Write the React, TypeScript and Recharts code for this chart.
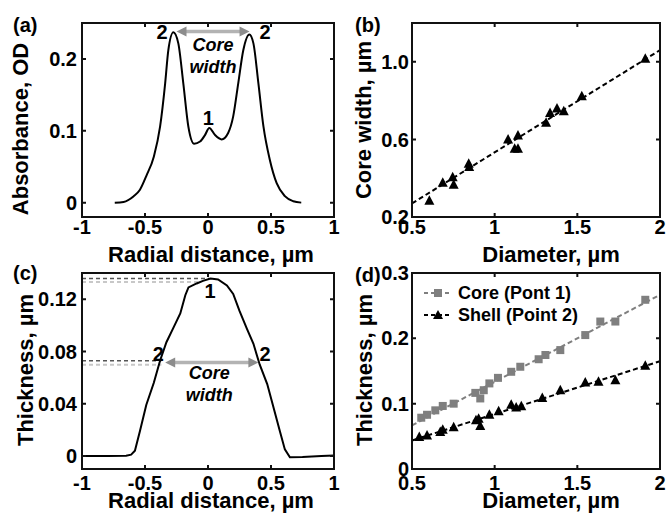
import React from "react";
import {
  ComposedChart,
  Line,
  Scatter,
  XAxis,
  YAxis,
  ReferenceLine,
  ReferenceDot,
  Legend,
} from "recharts";

const FONT = "'Liberation Sans', Arial, Helvetica, sans-serif";
const CORE_GRAY = "#7f7f7f";

// (a) absorbance profile
const radialA = [-0.74, -0.67, -0.59, -0.54, -0.49, -0.43, -0.38, -0.34, -0.315, -0.275, -0.236, -0.196, -0.156, -0.11, -0.063, -0.024, 0.01, 0.056, 0.108, 0.16, 0.2, 0.24, 0.28, 0.328, 0.36, 0.4, 0.44, 0.49, 0.545, 0.61, 0.677, 0.74];
const absorbance = [0, 0.001, 0.009, 0.018, 0.037, 0.064, 0.106, 0.166, 0.212, 0.237, 0.222, 0.166, 0.106, 0.082, 0.085, 0.094, 0.104, 0.094, 0.088, 0.097, 0.12, 0.166, 0.212, 0.234, 0.222, 0.166, 0.106, 0.06, 0.027, 0.009, 0.002, 0];

// (b) core width vs diameter
const diameterB = [0.605, 0.686, 0.746, 0.752, 0.843, 0.846, 1.081, 1.121, 1.141, 1.141, 1.311, 1.335, 1.377, 1.418, 1.527, 1.911];
const coreWidth = [0.284, 0.376, 0.405, 0.366, 0.475, 0.458, 0.6, 0.552, 0.552, 0.62, 0.686, 0.736, 0.759, 0.745, 0.822, 1.016];
const fitDiamB = [0.5, 2];
const fitWidthB = [0.27, 1.06];

// (c) thickness profile
const radialC = [-1, -0.8, -0.65, -0.61, -0.58, -0.54, -0.49, -0.43, -0.38, -0.33, -0.275, -0.22, -0.18, -0.155, -0.09, -0.04, 0.02, 0.08, 0.15, 0.2, 0.25, 0.31, 0.36, 0.41, 0.47, 0.52, 0.57, 0.61, 0.65, 0.75, 0.9, 1];
const thicknessC = [0, 0, 0.0002, 0.001, 0.004, 0.019, 0.039, 0.056, 0.073, 0.087, 0.098, 0.109, 0.123, 0.129, 0.132, 0.134, 0.1357, 0.135, 0.1305, 0.124, 0.111, 0.097, 0.086, 0.07, 0.055, 0.037, 0.019, 0.005, -0.001, -0.0008, 0, 0.0003];

// (d) thickness vs diameter
const coreDiam = [0.556, 0.591, 0.641, 0.686, 0.752, 0.883, 0.913, 0.934, 0.968, 1.02, 1.1, 1.155, 1.266, 1.307, 1.397, 1.548, 1.639, 1.73, 1.911];
const coreThick = [0.0785, 0.083, 0.0898, 0.0965, 0.1, 0.1165, 0.108, 0.1206, 0.131, 0.1395, 0.1488, 0.1565, 0.168, 0.1745, 0.182, 0.205, 0.2257, 0.2257, 0.259];
const shellDiam = [0.544, 0.591, 0.671, 0.686, 0.752, 0.887, 0.903, 0.913, 0.968, 1.024, 1.1, 1.13, 1.161, 1.288, 1.397, 1.548, 1.628, 1.73, 1.911];
const shellThick = [0.0488, 0.0514, 0.0565, 0.06, 0.064, 0.0745, 0.077, 0.0657, 0.083, 0.0883, 0.0985, 0.094, 0.096, 0.1088, 0.1206, 0.1323, 0.1334, 0.136, 0.158];
const fitDiamD = [0.5, 2];
const coreFit = [0.0668, 0.2667];
const shellFit = [0.0437, 0.165];
const legendD = [
  { name: "Core (Pont 1)", color: CORE_GRAY, marker: "square" },
  { name: "Shell (Point 2)", color: "#000", marker: "triangle" },
];

// axis domains and ticks
const radialDomain = [-1, 1];
const diamDomain = [0.5, 2];
const absDomain = [-0.02, 0.25];
const widthDomain = [0.2, 1.2];
const thickDomainC = [-0.01, 0.14];
const thickDomainD = [0, 0.3];
const radialTicks = [-1, -0.5, 0, 0.5, 1];
const diamTicks = [0.5, 1, 1.5, 2];
const absTicks = [0, 0.1, 0.2];
const widthTicks = [0.2, 0.6, 1.0];
const thickTicksC = [0, 0.04, 0.08, 0.12];
const thickTicksD = [0, 0.1, 0.2, 0.3];

const zip = (xs: number[], ys: number[]) => xs.map((x, i) => ({ x, y: ys[i] }));

const tickStyle = { fill: "#000", fontSize: 20, fontWeight: 700, fontFamily: FONT };
const titleStyle: React.CSSProperties = { fontSize: 22, fontWeight: 700, fontFamily: FONT, fill: "#000" };

// plot rectangles of the four charts (they follow from the chart sizes and margins below)
const plots = [
  { l: 82, t: 23, r: 334, b: 217, xd: radialDomain, yd: absDomain, xt: radialTicks, yt: absTicks },
  { l: 412, t: 23, r: 660, b: 217, xd: diamDomain, yd: widthDomain, xt: diamTicks, yt: widthTicks },
  { l: 82, t: 273, r: 334, b: 469, xd: radialDomain, yd: thickDomainC, xt: radialTicks, yt: thickTicksC },
  { l: 412, t: 273, r: 660, b: 469, xd: diamDomain, yd: thickDomainD, xt: diamTicks, yt: thickTicksD },
];

// MATLAB-style box with inward ticks on all four sides, drawn as one path per panel
function framePath(p: (typeof plots)[number]) {
  const px = (v: number) => p.l + ((v - p.xd[0]) / (p.xd[1] - p.xd[0])) * (p.r - p.l);
  const py = (v: number) => p.b - ((v - p.yd[0]) / (p.yd[1] - p.yd[0])) * (p.b - p.t);
  let d = `M${p.l},${p.t}H${p.r}V${p.b}H${p.l}Z`;
  p.xt.forEach((v) => {
    d += `M${px(v)},${p.b}v-4M${px(v)},${p.t}v4`;
  });
  p.yt.forEach((v) => {
    d += `M${p.l},${py(v)}h4M${p.r},${py(v)}h-4`;
  });
  return d;
}

function Frames() {
  return (
    <svg width={668} height={516} viewBox="0 0 668 516"
      style={{ position: "absolute", left: 0, top: 0, pointerEvents: "none", zIndex: 5 }}>
      {plots.map((p, i) => (
        <path key={i} d={framePath(p)} fill="none" stroke="#111111" strokeWidth={2} />
      ))}
    </svg>
  );
}

const xLabel = (text: string, dx: number, dy: number) => (p: any) => {
  const vb = p.viewBox;
  return (
    <text x={vb.x + vb.width / 2 + dx} y={vb.y + dy} textAnchor="middle" style={titleStyle}>
      {text}
    </text>
  );
};
const yLabel = (text: string, cxRel: number, dy: number) => (p: any) => {
  const vb = p.viewBox;
  const cx = vb.x + cxRel;
  const cy = vb.y + vb.height / 2 + dy;
  return (
    <text x={cx} y={cy} transform={`rotate(-90 ${cx} ${cy})`} textAnchor="middle" dominantBaseline="central" style={titleStyle}>
      {text}
    </text>
  );
};

const textShape = (label: string, size: number, italic = false) => (p: any) => (
  <text x={p.cx} y={p.cy} textAnchor="middle" dominantBaseline="central" fontSize={size} fontWeight={700}
    fontStyle={italic ? "italic" : "normal"} fontFamily={FONT} fill="#000">
    {label}
  </text>
);

const arrowShape = (p: any) => {
  const l = Math.min(p.x1, p.x2);
  const r = Math.max(p.x1, p.x2);
  const y = p.y1;
  return (
    <g>
      <line x1={l + 8} y1={y} x2={r - 8} y2={y} stroke="#b3b3b3" strokeWidth={3.5} />
      <polygon points={`${l},${y} ${l + 10},${y - 5} ${l + 10},${y + 5}`} fill="#8c8c8c" />
      <polygon points={`${r},${y} ${r - 10},${y - 5} ${r - 10},${y + 5}`} fill="#8c8c8c" />
    </g>
  );
};

const triShape = (fill: string, s: number) => (p: any) => (
  <polygon points={`${p.cx},${p.cy - s * 0.55} ${p.cx - s / 2},${p.cy + s * 0.4} ${p.cx + s / 2},${p.cy + s * 0.4}`} fill={fill} />
);
const sqShape = (fill: string, s: number) => (p: any) => (
  <rect x={p.cx - s / 2} y={p.cy - s / 2} width={s} height={s} fill={fill} />
);

const legendContent = () => (
  <div style={{ fontFamily: FONT, fontSize: 18, fontWeight: 700, color: "#000" }}>
    {legendD.map((e) => (
      <div key={e.name} style={{ display: "flex", alignItems: "center", height: 22, whiteSpace: "nowrap" }}>
        <svg width={28} height={22} style={{ marginRight: 6 }}>
          <line x1={0} y1={11} x2={28} y2={11} stroke={e.color} strokeWidth={2} strokeDasharray="4 3" />
          {e.marker === "square" ? (
            <rect x={10} y={7} width={8} height={8} fill={e.color} />
          ) : (
            <polygon points="14,6 9,15 19,15" fill={e.color} />
          )}
        </svg>
        <span>{e.name}</span>
      </div>
    ))}
  </div>
);

function PanelLabel({ text, left, top }: { text: string; left: number; top: number }) {
  return (
    <div style={{ position: "absolute", left, top, zIndex: 6, fontFamily: FONT, fontSize: 20, fontWeight: 700, lineHeight: "22px", color: "#000" }}>
      {text}
    </div>
  );
}

export default function App() {
  return (
    <div style={{ position: "absolute", left: 0, top: 0, width: 668, height: 516, background: "#fff", overflow: "hidden" }}>
      {/* (a) */}
      <div style={{ position: "absolute", left: 0, top: 0 }}>
        <ComposedChart width={340} height={270} margin={{ top: 23, right: 6, bottom: 0, left: 0 }}>
          <XAxis type="number" dataKey="x" domain={radialDomain} ticks={radialTicks} interval={0}
            height={53} axisLine={false} tickLine={false} tickSize={0} tickMargin={3} tick={tickStyle}
            label={{ content: xLabel("Radial distance, \u00b5m", 3, 45) }} />
          <YAxis type="number" dataKey="y" domain={absDomain} ticks={absTicks} interval={0}
            width={82} axisLine={false} tickLine={false} tickSize={0} tickMargin={5} tick={tickStyle}
            label={{ content: yLabel("Absorbance, OD", 20, 9) }} />
          <Line data={zip(radialA, absorbance)} dataKey="y" type="monotone" stroke="#000" strokeWidth={2} dot={false} isAnimationActive={false} />
          <ReferenceLine segment={[{ x: -0.25, y: 0.238 }, { x: 0.33, y: 0.238 }]} shape={arrowShape} />
          <ReferenceDot x={-0.365} y={0.237} shape={textShape("2", 20)} />
          <ReferenceDot x={0.452} y={0.237} shape={textShape("2", 20)} />
          <ReferenceDot x={0.003} y={0.118} shape={textShape("1", 20)} />
          <ReferenceDot x={0.04} y={0.22} shape={textShape("Core", 18, true)} />
          <ReferenceDot x={0.04} y={0.189} shape={textShape("width", 18, true)} />
        </ComposedChart>
      </div>

      {/* (b) */}
      <div style={{ position: "absolute", left: 334, top: 0 }}>
        <ComposedChart width={334} height={270} margin={{ top: 23, right: 8, bottom: 0, left: 0 }}>
          <XAxis type="number" dataKey="x" domain={diamDomain} ticks={diamTicks} interval={0}
            height={53} axisLine={false} tickLine={false} tickSize={0} tickMargin={3} tick={tickStyle}
            label={{ content: xLabel("Diameter, \u00b5m", 15, 45) }} />
          <YAxis type="number" dataKey="y" domain={widthDomain} ticks={widthTicks} interval={0}
            width={78} axisLine={false} tickLine={false} tickSize={0} tickMargin={3} tick={tickStyle}
            tickFormatter={(v: number) => v.toFixed(1)}
            label={{ content: yLabel("Core width, \u00b5m", 29, 0) }} />
          <Line data={zip(fitDiamB, fitWidthB)} dataKey="y" type="linear" stroke="#000" strokeWidth={2} strokeDasharray="5 3" dot={false} isAnimationActive={false} />
          <Scatter data={zip(diameterB, coreWidth)} shape={triShape("#000", 10)} isAnimationActive={false} />
        </ComposedChart>
      </div>

      {/* (c) */}
      <div style={{ position: "absolute", left: 0, top: 258 }}>
        <ComposedChart width={340} height={258} margin={{ top: 15, right: 6, bottom: 0, left: 0 }}>
          <XAxis type="number" dataKey="x" domain={radialDomain} ticks={radialTicks} interval={0}
            height={47} axisLine={false} tickLine={false} tickSize={0} tickMargin={7} tick={tickStyle}
            label={{ content: xLabel("Radial distance, \u00b5m", 3, 39) }} />
          <YAxis type="number" dataKey="y" domain={thickDomainC} ticks={thickTicksC} interval={0}
            width={82} axisLine={false} tickLine={false} tickSize={0} tickMargin={5} tick={tickStyle}
            label={{ content: yLabel("Thickness, \u00b5m", 25, -1) }} />
          <ReferenceLine segment={[{ x: -1, y: 0.1332 }, { x: -0.06, y: 0.1332 }]} stroke="#c8c8c8" strokeWidth={2} strokeDasharray="4 3" />
          <ReferenceLine segment={[{ x: -1, y: 0.1358 }, { x: 0.01, y: 0.1358 }]} stroke="#555" strokeWidth={1.5} strokeDasharray="4 3" />
          <ReferenceLine segment={[{ x: -1, y: 0.0698 }, { x: -0.37, y: 0.0698 }]} stroke="#c8c8c8" strokeWidth={2} strokeDasharray="4 3" />
          <ReferenceLine segment={[{ x: -1, y: 0.0728 }, { x: -0.37, y: 0.0728 }]} stroke="#555" strokeWidth={1.5} strokeDasharray="4 3" />
          <Line data={zip(radialC, thicknessC)} dataKey="y" type="linear" stroke="#000" strokeWidth={2} dot={false} isAnimationActive={false} />
          <ReferenceLine segment={[{ x: -0.34, y: 0.0715 }, { x: 0.4, y: 0.0715 }]} shape={arrowShape} />
          <ReferenceDot x={-0.394} y={0.078} shape={textShape("2", 20)} />
          <ReferenceDot x={0.452} y={0.078} shape={textShape("2", 20)} />
          <ReferenceDot x={0.016} y={0.126} shape={textShape("1", 20)} />
          <ReferenceDot x={0.01} y={0.0638} shape={textShape("Core", 18, true)} />
          <ReferenceDot x={0.01} y={0.047} shape={textShape("width", 18, true)} />
        </ComposedChart>
      </div>

      {/* (d) */}
      <div style={{ position: "absolute", left: 334, top: 258 }}>
        <ComposedChart width={334} height={258} margin={{ top: 15, right: 8, bottom: 0, left: 0 }}>
          <XAxis type="number" dataKey="x" domain={diamDomain} ticks={diamTicks} interval={0}
            height={47} axisLine={false} tickLine={false} tickSize={0} tickMargin={7} tick={tickStyle}
            label={{ content: xLabel("Diameter, \u00b5m", 15, 39) }} />
          <YAxis type="number" dataKey="y" domain={thickDomainD} ticks={thickTicksD} interval={0}
            width={78} axisLine={false} tickLine={false} tickSize={0} tickMargin={3} tick={tickStyle}
            label={{ content: yLabel("Thickness, \u00b5m", 30, -1) }} />
          <Line data={zip(fitDiamD, coreFit)} dataKey="y" type="linear" stroke={CORE_GRAY} strokeWidth={2} strokeDasharray="5 3" dot={false} isAnimationActive={false} legendType="none" />
          <Line data={zip(fitDiamD, shellFit)} dataKey="y" type="linear" stroke="#000" strokeWidth={2} strokeDasharray="5 3" dot={false} isAnimationActive={false} legendType="none" />
          <Scatter name="Core (Pont 1)" data={zip(coreDiam, coreThick)} shape={sqShape(CORE_GRAY, 8)} isAnimationActive={false} />
          <Scatter name="Shell (Point 2)" data={zip(shellDiam, shellThick)} shape={triShape("#000", 10)} isAnimationActive={false} />
          <Legend layout="vertical" align="center" verticalAlign="middle" content={legendContent}
            wrapperStyle={{ left: 90, top: 24, width: "auto" }} />
        </ComposedChart>
      </div>

      <Frames />

      <PanelLabel text="(a)" left={13} top={14} />
      <PanelLabel text="(b)" left={355} top={14} />
      <PanelLabel text="(c)" left={13} top={262} />
      <PanelLabel text="(d)" left={355} top={264} />
    </div>
  );
}
